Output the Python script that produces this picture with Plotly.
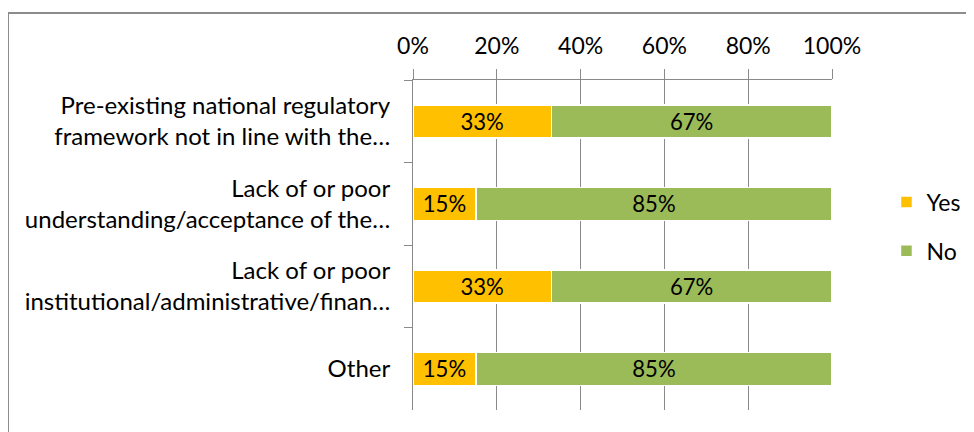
import plotly.graph_objects as go

categories = [
    "Pre-existing national regulatory<br>framework not in line with the…",
    "Lack of or poor<br>understanding/acceptance of the…",
    "Lack of or poor<br>institutional/administrative/finan…",
    "Other",
]
yes_vals = [33, 15, 33, 15]
no_vals = [67, 85, 67, 85]
tick_vals = [0, 20, 40, 60, 80, 100]
tick_text = ["0%", "20%", "40%", "60%", "80%", "100%"]

FONT = "Lato, Carlito, Calibri, sans-serif"
GRID = "#8a8a8a"

fig = go.Figure()
fig.add_trace(go.Bar(
    y=categories, x=yes_vals, name="Yes", orientation="h",
    marker=dict(color="#FFC000", line=dict(color="white", width=1.5)),
    text=[f"{v}%" for v in yes_vals], textposition="inside",
    insidetextanchor="middle", textfont=dict(color="black", size=23, family=FONT),
    legendgroup="yes", hoverinfo="skip"))
fig.add_trace(go.Bar(
    y=categories, x=no_vals, name="No", orientation="h",
    marker=dict(color="#9BBB59", line=dict(color="white", width=1.5)),
    text=[f"{v}%" for v in no_vals], textposition="inside",
    insidetextanchor="middle", textfont=dict(color="black", size=23, family=FONT),
    legendgroup="no", hoverinfo="skip"))

fig.update_layout(
    width=974, height=432,
    barmode="stack", bargap=0.6,
    paper_bgcolor="white", plot_bgcolor="white",
    font=dict(family=FONT, size=23, color="black"),
    margin=dict(l=405, r=150, t=72, b=30, autoexpand=False),
    uniformtext=dict(minsize=10, mode="show"),
    legend=dict(x=1.13, xanchor="left", y=0.556, yanchor="middle",
                traceorder="grouped", tracegroupgap=16,
                font=dict(size=23, family=FONT), itemwidth=30),
    shapes=[dict(type="rect", xref="paper", yref="paper",
                 x0=-405 / 419, x1=1.5, y0=-0.2, y1=1 + 67 / 330,
                 line=dict(color="#8c8c8c", width=2), layer="below")],
)
fig.update_xaxes(
    side="top", range=[0, 100], tickvals=tick_vals, ticktext=tick_text,
    showgrid=True, gridcolor=GRID, gridwidth=1,
    showline=True, linecolor=GRID, linewidth=1,
    ticks="outside", ticklen=10, tickcolor=GRID, ticklabelstandoff=6,
    zeroline=False, fixedrange=True,
)
fig.update_yaxes(
    categoryorder="array", categoryarray=categories,
    autorange="reversed",
    showline=True, linecolor=GRID, linewidth=1,
    ticks="outside", ticklen=8, tickcolor=GRID, tickson="boundaries",
    ticklabelstandoff=17, showgrid=False, fixedrange=True,
    tickfont=dict(size=24),
)

fig.write_html("out.html")
